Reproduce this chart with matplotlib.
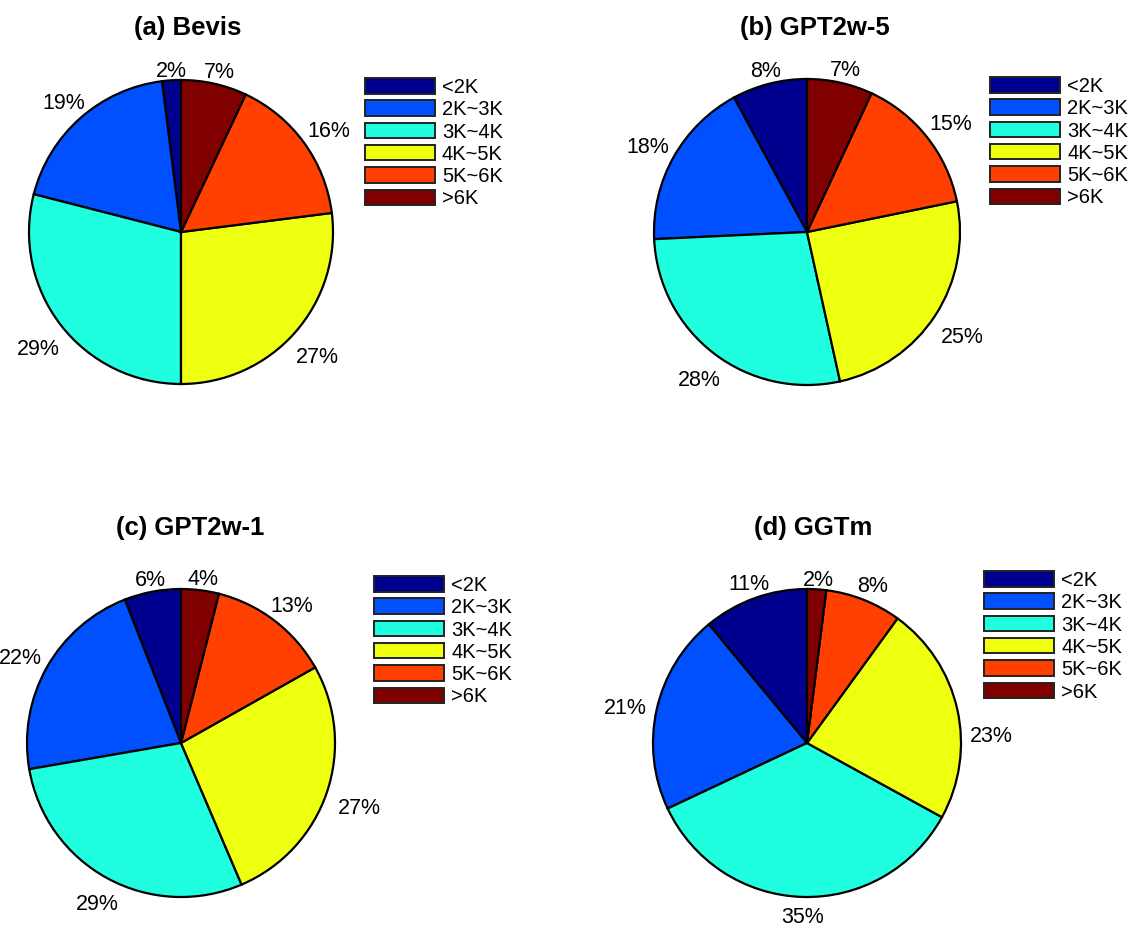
import numpy as np
import matplotlib
matplotlib.use("Agg")
import matplotlib.pyplot as plt
from matplotlib.patches import Rectangle

plt.rcParams['font.family'] = ['Liberation Sans', 'DejaVu Sans']

# ZTD bins and their colours (jet-like)
bins = ['<2K', '2K~3K', '3K~4K', '4K~5K', '5K~6K', '>6K']
colors = ['#00008F', '#0050FF', '#1FFFDF', '#EFFF10', '#FF4000', '#800000']

titles = ['(a) Bevis', '(b) GPT2w-5', '(c) GPT2w-1', '(d) GGTm']

# percentage of stations in each bin
bevis = [2, 19, 29, 27, 16, 7]
gpt2w5 = [8, 18, 28, 25, 15, 7]
gpt2w1 = [6, 22, 29, 27, 13, 4]
ggtm = [11, 21, 35, 23, 8, 2]
shares = [bevis, gpt2w5, gpt2w1, ggtm]

W, H = 1132, 929
fig = plt.figure(figsize=(W / 100, H / 100), dpi=100)

# pie centre / radius, title centre, legend top-left (pixels)
pie_pos = [(181, 233, 152), (807, 233, 153), (181, 744, 154), (807, 744, 154)]
title_pos = [(188, 28), (815, 28), (190, 528), (813, 528)]
legend_pos = [(365, 79), (990, 78), (374, 577), (984, 572)]

# the GGTm 4K~5K label is moved down so it clears the legend
nudge = {(3, 3): (0, -28)}


def px_axes(cx, cy, r):
    return fig.add_axes([(cx - r) / W, 1 - (cy + r) / H, 2 * r / W, 2 * r / H])


for k in range(4):
    cx, cy, r = pie_pos[k]
    ax = px_axes(cx, cy, r)
    vals = shares[k]
    wedges, _ = ax.pie(vals, colors=colors, startangle=90, counterclock=True,
                       radius=1.0, wedgeprops=dict(edgecolor='black', linewidth=1.6))
    ax.set_xlim(-1, 1)
    ax.set_ylim(-1, 1)
    ax.set_aspect('auto')
    ax.axis('off')

    # percent labels outside the rim; side labels sit further out than top/bottom ones
    total = float(sum(vals))
    cum = 0.0
    for i, v in enumerate(vals):
        mid = 90 + 360 * (cum + v / 2) / total
        cum += v
        ux, uy = np.cos(np.radians(mid)), np.sin(np.radians(mid))
        d = 1.09 + 0.13 * abs(ux)
        dx, dy = nudge.get((k, i), (0, 0))
        ax.annotate('%d%%' % v, xy=(d * ux, d * uy), xytext=(dx + 1, dy - 5),
                    textcoords='offset pixels', ha='center', va='center',
                    fontsize=15.5, annotation_clip=False)

    tx, ty = title_pos[k]
    fig.text(tx / W, 1 - ty / H, titles[k], ha='center', va='center',
             fontsize=18.5, fontweight='bold')

    # legend drawn as boxes with labels
    lx, ly = legend_pos[k]
    for i, name in enumerate(bins):
        top = ly + i * 22.3
        fig.patches.append(Rectangle((lx / W, 1 - (top + 15.5) / H), 70 / W, 15.5 / H,
                                     transform=fig.transFigure, facecolor=colors[i],
                                     edgecolor='#222222', linewidth=1.4))
        fig.text((lx + 77) / W, 1 - (top + 8.5) / H, name, ha='left', va='center',
                 fontsize=14.5)

fig.savefig('out.png', dpi=100, facecolor='white')
